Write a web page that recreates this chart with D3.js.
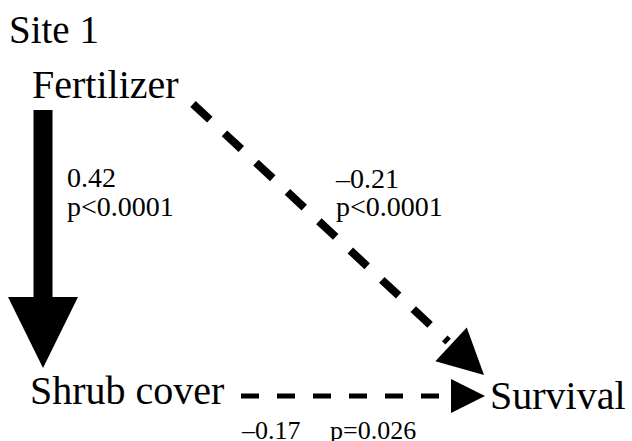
<!DOCTYPE html>
<html>
<head>
<meta charset="utf-8">
<script src="https://cdn.jsdelivr.net/npm/d3@7"></script>
</head>
<body style="margin:0;background:#fff">
<script>
// path diagram, site 1
var title = "Site 1";
var nodes = ["Fertilizer", "Shrub cover", "Survival"];
var pathFrom = ["Fertilizer", "Fertilizer", "Shrub cover"];
var pathTo = ["Shrub cover", "Survival", "Survival"];
var coefs = [0.42, -0.21, -0.17];
var pvals = ["p<0.0001", "p<0.0001", "p=0.026"];

var W = 632, H = 441;
var svg = d3.select("body").append("svg")
  .attr("width", W).attr("height", H)
  .attr("font-family", "'Liberation Serif', 'Times New Roman', serif");

// layout grid: col 0/1, row 0/1
var x = d3.scaleLinear().domain([0, 1]).range([43, 485]);
var y = d3.scaleLinear().domain([0, 1]).range([110, 396]);
var fmt = function(v) { return d3.format(".2f")(v).replace("-", "\u2212").replace("\u2212", "\u2013"); };

svg.append("text").attr("x", 9).attr("y", 43).attr("font-size", 39).text(title);

svg.append("text").attr("x", 32).attr("y", 98).attr("font-size", 40).text(nodes[0]);
svg.append("text").attr("x", 30).attr("y", 404).attr("font-size", 40).text(nodes[1]);
svg.append("text").attr("x", 490).attr("y", 409).attr("font-size", 40).text(nodes[2]);

// Fertilizer -> Shrub cover : thick solid arrow
var g = svg.append("g");
g.append("rect")
  .attr("x", x(0) - 9.5).attr("y", y(0))
  .attr("width", 19).attr("height", 297 - y(0));
g.append("path")
  .attr("d", d3.line()([[x(0) - 35, 297], [x(0) + 35, 297], [x(0), 368]]));

// Fertilizer -> Survival : diagonal dashed
var sx = 193, sy = 104;
var tx = x(1) - 1, ty = 375;
var ang = Math.atan2(ty - sy, tx - sx);
var headLen = 45, headW = 23;
var bx = tx - headLen * Math.cos(ang), by = ty - headLen * Math.sin(ang);
g.append("path")
  .attr("d", d3.line()([[sx, sy], [bx - 4 * Math.cos(ang), by - 4 * Math.sin(ang)]]))
  .attr("stroke", "#000").attr("stroke-width", 8)
  .attr("stroke-dasharray", "23,20").attr("fill", "none");
g.append("path")
  .attr("d", d3.line()([
    [bx + headW * Math.sin(ang), by - headW * Math.cos(ang)],
    [tx, ty],
    [bx - headW * Math.sin(ang), by + headW * Math.cos(ang)]
  ]));

// Shrub cover -> Survival : horizontal dashed
g.append("path")
  .attr("d", d3.line()([[241, y(1)], [440, y(1)]]))
  .attr("stroke", "#000").attr("stroke-width", 5)
  .attr("stroke-dasharray", "18,18").attr("fill", "none");
g.append("path")
  .attr("d", d3.line()([[451, y(1) - 17], [x(1), y(1)], [451, y(1) + 17]]));

// labels
var lab = svg.append("g").attr("font-size", 28);
lab.append("text").attr("x", 67).attr("y", 187).text(fmt(coefs[0]));
lab.append("text").attr("x", 67).attr("y", 216).text(pvals[0]);
lab.append("text").attr("x", 336).attr("y", 188).text(fmt(coefs[1]));
lab.append("text").attr("x", 336).attr("y", 216).text(pvals[1]);
lab.append("text").attr("x", 242).attr("y", 439).attr("font-size", 26).text(fmt(coefs[2]));
lab.append("text").attr("x", 330).attr("y", 439).attr("font-size", 26).text(pvals[2]);
</script>
</body>
</html>
